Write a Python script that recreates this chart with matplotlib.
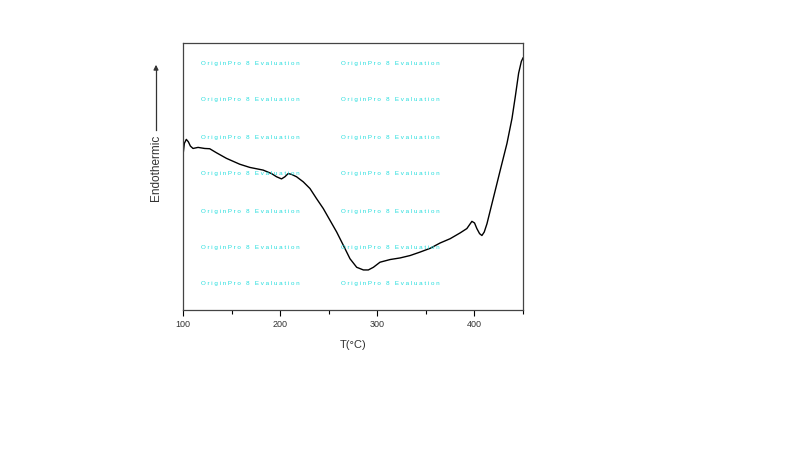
import numpy as np
import matplotlib.pyplot as plt

plt.rcParams['font.family'] = ['Liberation Sans', 'DejaVu Sans']

# DSC curve (y in arbitrary units, 0..100)
temperatura = [100.0, 101.4, 103.4, 105.5, 107.6, 110.3, 115.5, 122.3, 127.5, 134.4,
               144.7, 158.4, 168.8, 182.5, 191.1, 196.3, 201.4, 204.9, 208.3, 211.7,
               216.9, 223.8, 230.7, 237.5, 244.4, 251.3, 258.2, 265.1, 271.9, 278.8,
               285.7, 290.8, 296.0, 302.8, 313.2, 323.5, 333.8, 344.1, 354.4, 364.7,
               375.0, 385.4, 392.2, 397.4, 400.1, 402.5, 405.3, 407.7, 410.1, 412.9,
               416.3, 421.5, 426.6, 433.5, 438.7, 442.1, 445.5, 448.3, 450.0]
fluxo = [58.0, 62.4, 63.9, 63.0, 61.4, 60.5, 60.9, 60.5, 60.4, 58.9,
         56.8, 54.6, 53.4, 52.4, 51.1, 49.9, 49.1, 49.9, 51.1, 50.8,
         49.9, 48.0, 45.5, 41.7, 38.0, 33.6, 29.2, 24.2, 19.2, 16.0,
         15.0, 15.0, 16.0, 17.9, 18.9, 19.5, 20.4, 21.7, 23.1, 25.1,
         26.7, 28.9, 30.5, 33.2, 32.6, 30.5, 28.6, 27.9, 29.2, 32.3,
         37.3, 44.9, 52.4, 62.4, 71.8, 80.0, 88.7, 93.1, 94.4]
ticks_x = [100, 200, 300, 400]
ticks_menores = [150, 250, 350, 450]

W, H = 800, 449
fig = plt.figure(figsize=(8, 4.49), dpi=100)
ax = fig.add_axes([183 / W, 1 - 310 / H, 340 / W, 267 / H])

ax.plot(temperatura, fluxo, color='black', linewidth=1.0)
ax.set_xlim(100, 450)
ax.set_ylim(0, 100)
ax.set_xticks(ticks_x)
ax.set_xticks(ticks_menores, minor=True)
ax.set_xticklabels([str(t) for t in ticks_x], fontsize=6.5, color='#333333')
ax.tick_params(axis='x', which='major', direction='out', length=4, width=0.8, pad=3)
ax.tick_params(axis='x', which='minor', direction='out', length=3, width=0.8)
ax.set_yticks([])
for s in ax.spines.values():
    s.set_linewidth(0.9)
    s.set_color('#444444')

ax.set_xlabel('T(°C)', fontsize=8, color='#333333', labelpad=8)

# watermark
linhas = [64, 100, 137, 174, 211, 247, 284]
colunas = [201, 341]
for yy in linhas:
    for xx in colunas:
        fig.text(xx / W, 1 - yy / H, 'O r i g i n P r o   8   E v a l u a t i o n',
                 fontsize=4.5, color='#22dddd', va='center', ha='left')

# y label with arrow
fig.text(156 / W, 1 - 168 / H, 'Endothermic', rotation=90, fontsize=8.5,
         color='#333333', ha='center', va='center')
fig.add_artist(plt.Line2D([156 / W, 156 / W], [1 - 130 / H, 1 - 70 / H],
                          color='#333333', linewidth=0.9))
ax.annotate('', xy=(156 / W, 1 - 62 / H), xytext=(156 / W, 1 - 72 / H),
            xycoords='figure fraction',
            arrowprops=dict(arrowstyle='-|>', color='#333333', lw=0.9,
                            mutation_scale=7))

plt.savefig('out.png', dpi=100)
